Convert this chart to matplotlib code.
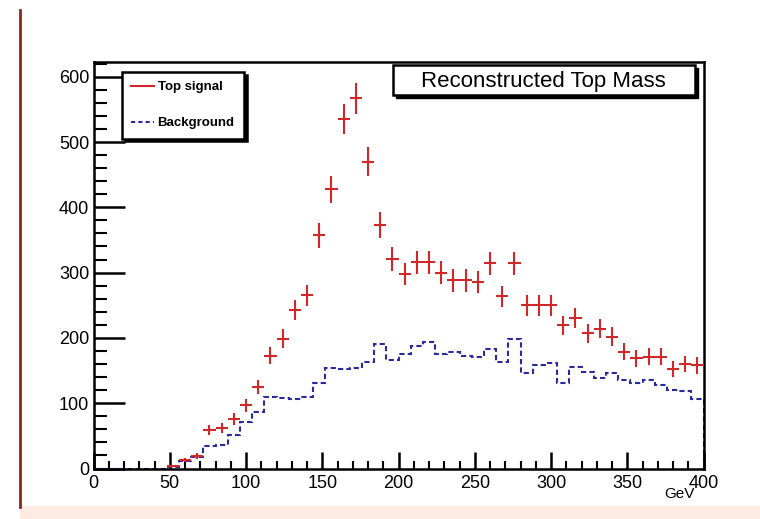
import numpy as np
import matplotlib
matplotlib.use("Agg")
import matplotlib.pyplot as plt
from matplotlib.patches import Rectangle
from matplotlib.lines import Line2D
from matplotlib.ticker import MultipleLocator

plt.rcParams['font.family'] = ['Liberation Sans', 'DejaVu Sans']

# Histograms: 50 bins of 8 GeV from 0 to 400
edges = np.arange(0, 401, 8)
centers = edges[:-1] + 4

signal = [0, 0, 0, 0, 0, 0, 4, 13, 19, 59,
          62, 76, 97, 125, 173, 199, 243, 265, 357, 428,
          535, 567, 470, 373, 321, 298, 316, 316, 300, 288,
          288, 285, 314, 264, 314, 250, 250, 250, 219, 231,
          207, 214, 202, 179, 169, 171, 171, 152, 160, 158]

background = [0, 0, 0, 0, 0, 0, 2, 11, 18, 34,
              36, 51, 71, 86, 110, 108, 107, 110, 131, 154,
              152, 154, 163, 190, 166, 176, 188, 194, 176, 178,
              173, 170, 183, 163, 198, 146, 158, 161, 131, 155,
              148, 138, 146, 135, 131, 135, 128, 120, 118, 107]

labels = ['Top signal', 'Background']
title = 'Reconstructed Top Mass'

rojo = '#d02828'
azul = '#2a2a9c'

W, H = 760, 519
def fx(x):
    return x / W
def fy(y):
    return 1 - y / H

fig = plt.figure(figsize=(W / 100, H / 100), dpi=100)
fig.patch.set_facecolor('white')

# marco exterior (linea roja izquierda y franja inferior)
fig.add_artist(Rectangle((fx(20), 0), 1 - fx(20), 13 / H, transform=fig.transFigure,
                         facecolor='#fcebe3', edgecolor='none', zorder=0))
fig.add_artist(Line2D([fx(20), fx(20)], [fy(507), fy(10)], transform=fig.transFigure,
                      color='#8e2424', lw=2))

ax = fig.add_axes([fx(93.5), fy(468.5), 610 / W, 406.8 / H])

sig = np.array(signal, dtype=float)
mask = sig > 0
ax.errorbar(centers[mask], sig[mask], yerr=np.sqrt(sig[mask]), xerr=4,
            fmt='none', ecolor=rojo, elinewidth=1.5, capsize=0, zorder=3)

ax.stairs(background, edges, color=azul, lw=1.5, linestyle=(0, (2.5, 1.5)), zorder=2)

ax.set_xlim(0, 400)
ax.set_ylim(0, 623)
ax.xaxis.set_major_locator(MultipleLocator(50))
ax.xaxis.set_minor_locator(MultipleLocator(10))
ax.yaxis.set_major_locator(MultipleLocator(100))
ax.yaxis.set_minor_locator(MultipleLocator(20))
ax.tick_params(axis='x', which='major', direction='in', length=12, width=1.8, labelsize=13, pad=5)
ax.tick_params(axis='x', which='minor', direction='in', length=6, width=1.5)
ax.tick_params(axis='y', which='major', direction='in', length=22, width=1.8, labelsize=13, pad=3)
ax.tick_params(axis='y', which='minor', direction='in', length=9, width=1.5)
for s in ax.spines.values():
    s.set_linewidth(1.8)

ax.set_xlabel('GeV', fontsize=11, ha='right')
ax.xaxis.set_label_coords((695 - 93.5) / 610, -19 / 406.8)

# leyenda
handles = [Line2D([], [], color=rojo, lw=1.5),
           Line2D([], [], color=azul, lw=1.5, linestyle=(0, (2, 1.5)))]
leg = ax.legend(handles, labels, loc='upper left', bbox_to_anchor=(fx(122), fy(72)),
                bbox_transform=fig.transFigure, borderaxespad=0, frameon=True,
                fancybox=False, shadow={'color': 'black', 'alpha': 1},
                edgecolor='black', framealpha=1,
                prop={'size': 9.5, 'weight': 'bold'},
                handlelength=1.75, handletextpad=0.25, labelspacing=1.8, borderpad=0.7)
leg.get_frame().set_linewidth(1.8)

# caja del titulo
fig.add_artist(Rectangle((fx(396), fy(98)), 302 / W, 30 / H, transform=fig.transFigure,
                         facecolor='black', edgecolor='black', zorder=5))
fig.add_artist(Rectangle((fx(393), fy(95)), 302 / W, 30 / H, transform=fig.transFigure,
                         facecolor='white', edgecolor='black', lw=1.8, zorder=6))
fig.text(fx(543), fy(81), title, ha='center', va='center', fontsize=16, zorder=7)

fig.savefig('out.png', dpi=100)
